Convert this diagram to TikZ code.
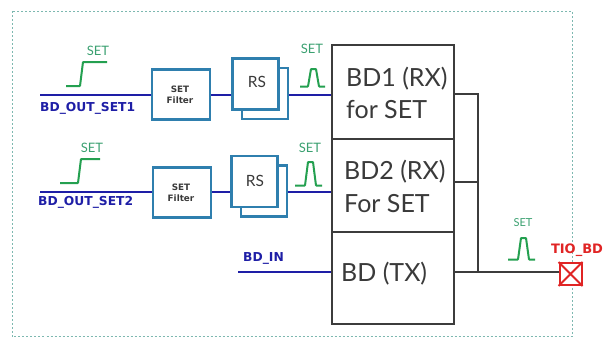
\documentclass[tikz,border=0pt]{standalone}
\usepackage{fontspec}
\setmainfont{Lato}
\newfontfamily\labfont{DejaVu Sans}
\definecolor{boxgray}{HTML}{3C3C3C}
\definecolor{txtgray}{HTML}{3A3A3A}
\definecolor{navy}{HTML}{1E1EA6}
\definecolor{fblue}{HTML}{2F7FAE}
\definecolor{sgreen}{HTML}{24A050}
\definecolor{lgreen}{HTML}{3AA070}
\definecolor{pred}{HTML}{E02424}
\definecolor{frame}{HTML}{7DB8B0}
\begin{document}
\begin{tikzpicture}[x=1pt,y=-1pt,
  bdbox/.style={draw=boxgray, line width=2.4pt, fill=white, minimum width=122pt, inner sep=0pt},
  bdtext/.style={text=txtgray, font=\fontsize{25}{25}\selectfont, anchor=west, inner sep=0pt},
  fbox/.style={draw=fblue, line width=2.4pt, fill=white, minimum width=58pt, minimum height=50pt, inner sep=0pt},
  rsbox/.style={draw=fblue, line width=2.4pt, fill=white, minimum width=46pt, minimum height=51pt, inner sep=0pt},
  ftext/.style={text=txtgray, font=\labfont\bfseries\fontsize{8.8}{8.8}\selectfont, align=center, inner sep=0pt},
  rstext/.style={text=txtgray, font=\fontsize{15.5}{15.5}\selectfont, inner sep=0pt},
  bus/.style={draw=navy, line width=2.6pt},
  wire/.style={draw=boxgray, line width=2pt},
  sig/.style={draw=sgreen, line width=2pt, rounded corners=0.6pt},
  setlbl/.style={text=lgreen, font=\fontsize{13}{13}\selectfont, inner sep=0pt},
  buslbl/.style={text=navy, font=\labfont\bfseries\fontsize{12.3}{12.3}\selectfont, anchor=west, inner sep=0pt},
]
\useasboundingbox (0,0) rectangle (610,338);
\draw[frame, line width=0.8pt, dash pattern=on 2pt off 2pt] (12,11) rectangle (572,336.5);

% big boxes
\node[bdbox, minimum height=94pt] (bd1) at (393,92) {};
\node[bdbox, minimum height=93pt] (bd2) at (393,185.5) {};
\node[bdbox, minimum height=92pt] (bdtx) at (393,278) {};
\node[bdtext] (t1a) at (346,79) {BD1 (RX)};
\node[bdtext] (t1b) at (346,110) {for SET};
\node[bdtext] (t2a) at (344,172) {BD2 (RX)};
\node[bdtext] (t2b) at (344,204) {For SET};
\node[bdtext] (t3a) at (341,274) {BD (TX)};

% row 1
\coordinate (in1) at (40,95);
\node[fbox] (f1) at (181,94.5) {};
\node[rsbox] (r1b) at (265,93.5) {};
\node[rsbox] (r1) at (255.5,84) {};
\draw[bus] (in1) -- (in1 -| f1.west);
\draw[bus] (f1.east |- in1) -- (in1 -| r1.west);
\draw[bus] (r1b.east |- in1) -- (in1 -| bd1.west);
\node[rsbox] at (265,93.5) {};
\node[rsbox] (r1f) at (255.5,84) {};
\node[fbox] (f1f) at (181,94.5) {};
\node[ftext] (f1t) at (180,95) {SET\\[2pt]Filter};
\node[rstext] (r1t) at (257,82) {RS};
\node[buslbl] (l1) at (40,108) {BD\_OUT\_SET1};
\draw[sig] (66,86) -- (80,86) -- (83,62) -- (107,62);
\node[setlbl] (s1) at (98,51) {SET};
\draw[sig] (300,86.5) -- (308,86.5) -- (311,69) -- (316,69) -- (319,86.5) -- (325,86.5);
\node[setlbl] (s2) at (312,49) {SET};

% row 2
\coordinate (in2) at (40,192);
\node[rsbox] (r2b) at (264,191) {};
\node[rsbox] (r2) at (254.5,181.5) {};
\node[fbox] (f2) at (182,192.5) {};
\draw[bus] (in2) -- (in2 -| f2.west);
\draw[bus] (f2.east |- in2) -- (in2 -| r2.west);
\draw[bus] (r2b.east |- in2) -- (in2 -| bd2.west);
\node[rsbox] at (264,191) {};
\node[rsbox] (r2f) at (254.5,181.5) {};
\node[fbox] (f2f) at (182,192.5) {};
\node[ftext] (f2t) at (181,193) {SET\\[2pt]Filter};
\node[rstext] (r2t) at (255,181) {RS};
\node[buslbl] (l2) at (38,202) {BD\_OUT\_SET2};
\draw[sig] (60,183) -- (78,183) -- (81,159) -- (100,159);
\node[setlbl] (s3) at (92,148) {SET};
\draw[sig] (295,185.5) -- (305,185.5) -- (308,162) -- (313,162) -- (316,185.5) -- (322,185.5);
\node[setlbl] (s4) at (310,148) {SET};

% BD_IN
\coordinate (in3) at (238,272);
\draw[bus] (in3) -- (in3 -| bdtx.west);
\node[buslbl] (l3) at (243,258) {BD\_IN};

% right side
\coordinate (jn) at (478,272);
\node[draw=pred, line width=2pt, minimum size=22pt, inner sep=0pt, fill=white] (pad) at (570.5,274) {};
\draw[wire] ([yshift=-2pt]bd1.east) -| (jn);
\draw[wire] ([yshift=3.5pt]bd2.east) -- ([yshift=3.5pt]bd2.east -| jn);
\draw[wire] ([yshift=6pt]bdtx.east) -- (pad.west |- jn);
\draw[pred, line width=2pt] (pad.north west) -- (pad.south east) (pad.north east) -- (pad.south west);
\node[text=pred, font=\labfont\bfseries\fontsize{13}{13}\selectfont, inner sep=0pt] (tio) at (577,250) {TIO\_BD};
\draw[sig] (508,259.5) -- (518,259.5) -- (521,238) -- (526,238) -- (529,259.5) -- (535,259.5);
\node[setlbl, font=\fontsize{11}{11}\selectfont] (s5) at (523,223) {SET};
\end{tikzpicture}
\end{document}
